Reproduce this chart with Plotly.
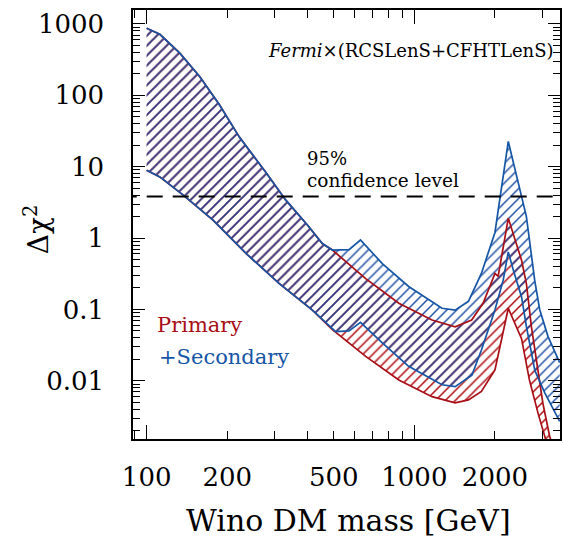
import plotly.graph_objects as go

# Delta chi^2 bands (mass in GeV)
# Primary + Secondary band (blue)
ps_up_mass = [100, 112, 133, 158, 187, 222, 279, 331, 400, 453, 494, 570, 629, 759, 952,
              1268, 1420, 1592, 1780, 2000, 2243, 2621, 2818, 2938, 3155, 3490]
ps_up_chi2 = [870, 718, 390, 182, 74, 26, 8.3, 3.4, 1.5, 0.84, 0.68, 0.69, 0.94, 0.44, 0.21,
              0.104, 0.098, 0.13, 0.32, 1.2, 22.6, 2.0, 0.25, 0.1, 0.042, 0.018]
ps_lo_mass = [100, 112, 137, 177, 235, 313, 416, 508, 570, 629, 759, 952, 1268, 1420, 1640,
              1780, 2000, 2148, 2243, 2340, 2514, 2623, 2818, 3070, 3490]
ps_lo_chi2 = [8.9, 7.2, 4.0, 1.79, 0.61, 0.23, 0.098, 0.049, 0.05, 0.066, 0.034, 0.016, 0.0088,
              0.0083, 0.012, 0.027, 0.098, 0.26, 0.64, 0.36, 0.15, 0.057, 0.014, 0.0068, 0.0027]

# Primary only band (red); identical to the blue one below ~500 GeV
p_up_mass = [100, 112, 133, 158, 187, 222, 279, 331, 400, 453, 494, 658, 875, 1164, 1420,
             1637, 1806, 2000, 2056, 2243, 2514, 2621, 2737, 2898, 3022, 3198, 3400]
p_up_chi2 = [870, 718, 390, 182, 74, 26, 8.3, 3.4, 1.5, 0.84, 0.68, 0.27, 0.122, 0.071, 0.057,
             0.071, 0.122, 0.32, 0.29, 1.9, 0.49, 0.23, 0.057, 0.0127, 0.0048, 0.0017, 0.0008]
p_lo_mass = [100, 112, 137, 177, 235, 313, 416, 494, 658, 875, 1164, 1420, 1592, 1780, 2000,
             2243, 2514, 2690, 2898, 3070, 3250]
p_lo_chi2 = [8.9, 7.2, 4.0, 1.79, 0.61, 0.23, 0.098, 0.052, 0.022, 0.0103, 0.006, 0.0049,
             0.0054, 0.0071, 0.0142, 0.104, 0.039, 0.0103, 0.0035, 0.0017, 0.0008]

cl95 = 3.84
x_ticks = [100, 200, 500, 1000, 2000]
y_ticks = [0.01, 0.1, 1, 10, 100, 1000]
y_ticktext = ["0.01", "0.1", "1", "10", "100", "1000"]

BLUE = "rgb(22,86,166)"
RED = "rgb(168,14,22)"
FONT = "DejaVu Serif"

fig = go.Figure()

# hatched bands (red first, blue slightly transparent on top -> darker overlap)
fig.add_trace(go.Scatter(
    x=p_up_mass + p_lo_mass[::-1], y=p_up_chi2 + p_lo_chi2[::-1],
    mode="lines", fill="toself", line=dict(width=0), fillcolor=RED,
    fillpattern=dict(shape="/", fgcolor="rgb(175,10,15)", fgopacity=1,
                     bgcolor="rgba(255,255,255,0)", size=7, solidity=0.22),
    hoverinfo="skip", showlegend=False,
))
fig.add_trace(go.Scatter(
    x=ps_up_mass + ps_lo_mass[::-1], y=ps_up_chi2 + ps_lo_chi2[::-1],
    mode="lines", fill="toself", line=dict(width=0), fillcolor=BLUE,
    fillpattern=dict(shape="/", fgcolor="rgb(18,70,158)", fgopacity=0.93,
                     bgcolor="rgba(255,255,255,0)", size=7, solidity=0.22),
    hoverinfo="skip", showlegend=False,
))

for xs, ys, col in [(p_up_mass, p_up_chi2, RED), (p_lo_mass, p_lo_chi2, RED),
                    (ps_up_mass, ps_up_chi2, BLUE), (ps_lo_mass, ps_lo_chi2, BLUE)]:
    fig.add_trace(go.Scatter(x=xs, y=ys, mode="lines", line=dict(color=col, width=1.7),
                             showlegend=False))

# 95% CL line
fig.add_trace(go.Scatter(x=[80, 4000], y=[cl95, cl95], mode="lines",
                         line=dict(color="black", width=2, dash="16px,10px"), showlegend=False))

fig.update_layout(
    width=563, height=537,
    margin=dict(l=133, r=1, t=10, b=98),
    plot_bgcolor="white", paper_bgcolor="white",
    font=dict(family=FONT, color="black"),
    xaxis=dict(
        type="log", range=[1.949, 3.544], showgrid=False, zeroline=False,
        showline=True, linecolor="black", linewidth=1.5, mirror="ticks",
        tickmode="array", tickvals=x_ticks, ticktext=[str(v) for v in x_ticks],
        ticks="inside", ticklen=8, tickwidth=1.3, tickcolor="black",
        tickfont=dict(size=26), ticklabelstandoff=14,
        minor=dict(dtick="D1", ticks="inside", ticklen=8, tickwidth=1.3, tickcolor="black",
                   showgrid=False),
    ),
    xaxis2=dict(
        type="log", range=[1.949, 3.544], overlaying="x", matches="x", showgrid=False,
        zeroline=False, showline=False, mirror="ticks", tickmode="array", tickvals=[100, 1000],
        ticks="inside", ticklen=14, tickwidth=1.3, tickcolor="black", showticklabels=False,
    ),
    yaxis=dict(
        type="log", range=[-2.815, 3.196], showgrid=False, zeroline=False,
        showline=True, linecolor="black", linewidth=1.5, mirror="ticks",
        tickmode="array", tickvals=y_ticks, ticktext=y_ticktext,
        ticks="inside", ticklen=12, tickwidth=1.3, tickcolor="black",
        tickfont=dict(size=26), ticklabelstandoff=22,
        minor=dict(dtick="D1", ticks="inside", ticklen=7, tickwidth=1.1, tickcolor="black",
                   showgrid=False),
    ),
    showlegend=False,
)
# dummy trace so that xaxis2 is drawn
fig.add_trace(go.Scatter(x=[100], y=[1], xaxis="x2", mode="markers",
                         marker=dict(opacity=0), hoverinfo="skip", showlegend=False))

ann = [
    dict(x=3.525, y=2.633, text="<i>Fermi</i>×(RCSLenS+CFHTLenS)", xanchor="right",
         font=dict(size=18)),
    dict(x=2.592, y=1.12, text="95%", xanchor="left", font=dict(size=18)),
    dict(x=2.592, y=0.812, text="confidence level", xanchor="left", font=dict(size=18.5)),
    dict(x=2.031, y=-1.218, text="Primary", xanchor="left", font=dict(size=21, color=RED)),
    dict(x=2.038, y=-1.662, text="+Secondary", xanchor="left", font=dict(size=21, color=BLUE)),
]
for a in ann:
    fig.add_annotation(xref="x", yref="y", showarrow=False, yanchor="middle", **a)

fig.add_annotation(xref="paper", yref="paper", x=0.505, y=-0.189, text="Wino DM mass [GeV]",
                   showarrow=False, font=dict(size=30), xanchor="center", yanchor="middle")
fig.add_annotation(xref="paper", yref="paper", x=-0.224, y=0.49, text="Δχ<sup>2</sup>",
                   showarrow=False, textangle=-90, font=dict(size=28),
                   xanchor="center", yanchor="middle")

# drop the default page margin so the 563x537 figure fills the window exactly
fig.write_html("out.html", config={"displayModeBar": False},
               post_script="document.body.style.margin='0px';")
